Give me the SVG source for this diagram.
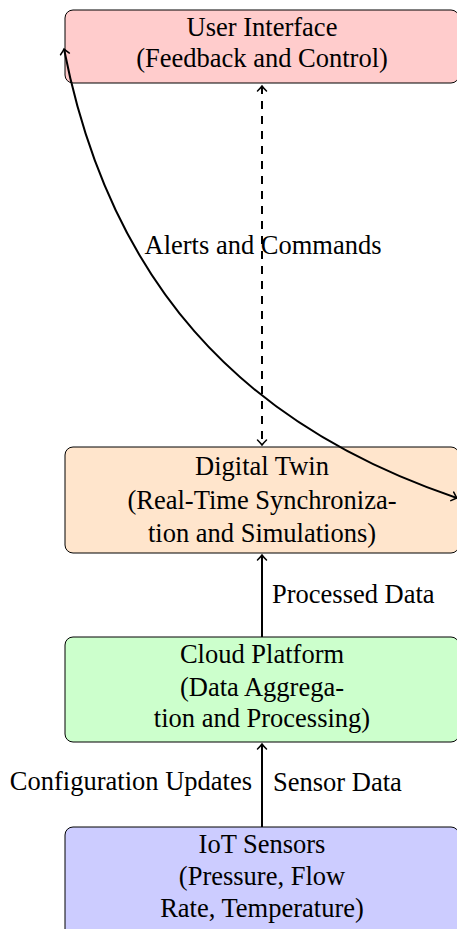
<svg xmlns="http://www.w3.org/2000/svg" width="457" height="929" viewBox="0 0 457 929">
<style>
text{font-family:"Liberation Serif","Times New Roman",serif;font-size:26.5px;fill:#000}
.c{text-anchor:middle}
.box{stroke:#000;stroke-width:1}
.ln{fill:none;stroke:#000;stroke-width:2}
</style>
<defs>
<marker id="ah" markerUnits="userSpaceOnUse" markerWidth="14" markerHeight="14" viewBox="-8 -7 10 14" refX="0" refY="0" orient="auto-start-reverse" overflow="visible">
<path d="M-5,-4.5 Q-1.5,-1 0,0 Q-1.5,1 -5,4.5" fill="none" stroke="#000" stroke-width="1.5" stroke-linecap="round"/>
</marker>
</defs>
<g id="ui"><rect class="box" x="65" y="10" width="394" height="73" rx="8" fill="#ffcccc"/>
<text class="c" x="262" y="36">User Interface</text>
<text class="c" x="262" y="67">(Feedback and Control)</text></g>
<g id="dt"><rect class="box" x="65" y="447" width="394" height="106" rx="8" fill="#ffe5cc"/>
<text class="c" x="262" y="475">Digital Twin</text>
<text class="c" x="262" y="509">(Real-Time Synchroniza-</text>
<text class="c" x="262" y="542">tion and Simulations)</text></g>
<g id="cloud"><rect class="box" x="65" y="637" width="394" height="105" rx="8" fill="#ccffcc"/>
<text class="c" x="262" y="663">Cloud Platform</text>
<text class="c" x="262" y="696">(Data Aggrega-</text>
<text class="c" x="262" y="727">tion and Processing)</text></g>
<g id="iot"><rect class="box" x="65" y="827" width="394" height="110" rx="8" fill="#ccccff"/>
<text class="c" x="262" y="853">IoT Sensors</text>
<text class="c" x="262" y="885">(Pressure, Flow</text>
<text class="c" x="262" y="917">Rate, Temperature)</text></g>
<g id="connectors">
<path class="ln" d="M262,827 L262,744" marker-end="url(#ah)"/>
<path class="ln" d="M262,637 L262,555" marker-end="url(#ah)"/>
<path class="ln" d="M262,86 L262,445" stroke-width="1.6" stroke-dasharray="8 7" marker-start="url(#ah)" marker-end="url(#ah)"/>
<path class="ln" stroke-width="1.6" d="M64,49 C109,278 236,423.5 457,498" marker-start="url(#ah)" marker-end="url(#ah)"/>
<text class="c" x="263" y="254">Alerts and Commands</text>
<text x="272" y="603">Processed Data</text>
<text x="252" y="790" text-anchor="end">Configuration Updates</text>
<text x="273" y="791">Sensor Data</text>
</g>
</svg>
